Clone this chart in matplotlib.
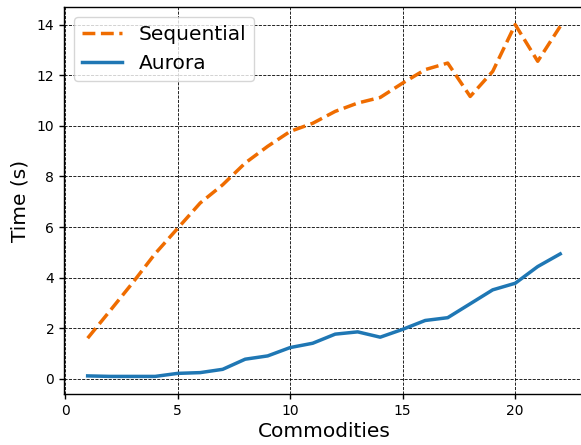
import matplotlib
matplotlib.use("Agg")
import matplotlib.pyplot as plt

commodities = list(range(1, 23))
sequential = [1.61, 2.70, 3.80, 4.95, 5.95, 6.95, 7.67, 8.53, 9.19, 9.78, 10.10,
              10.57, 10.90, 11.12, 11.69, 12.22, 12.48, 11.16, 12.15, 14.00, 12.55, 13.93]
aurora = [0.12, 0.10, 0.10, 0.10, 0.22, 0.25, 0.38, 0.78, 0.91, 1.24, 1.41,
          1.77, 1.86, 1.65, 1.96, 2.31, 2.42, 2.97, 3.52, 3.78, 4.44, 4.94]

fig = plt.figure(figsize=(5.81, 4.45), dpi=100)
ax = fig.add_axes([0.1102, 0.1146, 0.8947, 0.8697])

ax.plot(commodities, sequential, '--', color='#ef6c00', linewidth=2.5, label='Sequential')
ax.plot(commodities, aurora, '-', color='#1f77b4', linewidth=2.5, label='Aurora')

ax.grid(True, linestyle='--', color='black', linewidth=0.6)
ax.set_xlabel('Commodities', fontsize=14.5, labelpad=3)
ax.set_ylabel('Time (s)', fontsize=14.5, labelpad=5)
ax.set_xticks([0, 5, 10, 15, 20])
ax.tick_params(labelsize=10, width=1)
for s in ax.spines.values():
    s.set_linewidth(1)
ax.legend(loc='upper left', fontsize=14.5)

fig.savefig('out.png', dpi=100)
